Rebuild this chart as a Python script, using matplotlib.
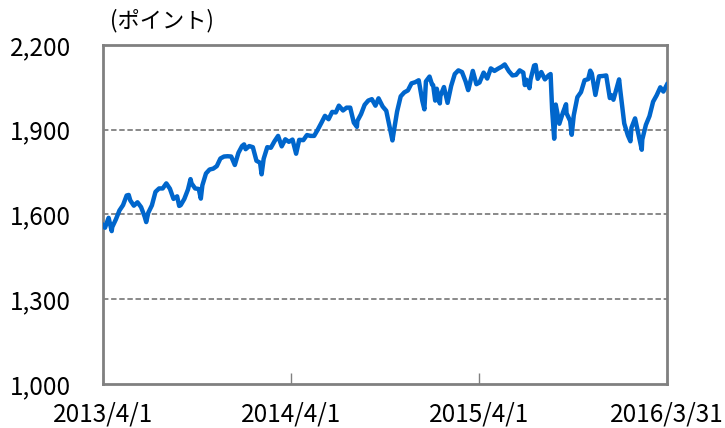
import matplotlib
matplotlib.use('Agg')
import matplotlib.pyplot as plt
import matplotlib.dates as mdates
import numpy as np

plt.rcParams['font.family'] = ['Noto Sans CJK JP', 'DejaVu Sans']

# S&P500 終値（読み取り値）
dates = [
    '2013-04-01', '2013-04-05', '2013-04-12', '2013-04-18', '2013-04-19', '2013-04-26',
    '2013-05-03', '2013-05-10', '2013-05-17', '2013-05-21', '2013-05-24', '2013-05-31',
    '2013-06-07', '2013-06-14', '2013-06-21', '2013-06-24', '2013-06-28', '2013-07-05',
    '2013-07-12', '2013-07-19', '2013-07-26', '2013-08-02', '2013-08-09', '2013-08-16',
    '2013-08-23', '2013-08-27', '2013-08-30', '2013-09-06', '2013-09-13', '2013-09-18',
    '2013-09-20', '2013-09-27', '2013-10-04', '2013-10-08', '2013-10-11', '2013-10-18',
    '2013-10-25', '2013-11-01', '2013-11-08', '2013-11-15', '2013-11-22', '2013-11-29',
    '2013-12-06', '2013-12-13', '2013-12-20', '2013-12-27', '2013-12-31',
    '2014-01-03', '2014-01-10', '2014-01-17', '2014-01-24', '2014-01-31', '2014-02-03',
    '2014-02-07', '2014-02-14', '2014-02-21', '2014-02-28', '2014-03-07', '2014-03-14',
    '2014-03-21', '2014-03-28', '2014-04-04', '2014-04-11', '2014-04-17', '2014-04-25',
    '2014-05-02', '2014-05-09', '2014-05-16', '2014-05-23', '2014-05-30', '2014-06-06',
    '2014-06-13', '2014-06-20', '2014-06-27', '2014-07-03', '2014-07-11', '2014-07-18',
    '2014-07-25', '2014-08-01', '2014-08-07', '2014-08-08', '2014-08-15', '2014-08-22',
    '2014-08-29', '2014-09-05', '2014-09-12', '2014-09-18', '2014-09-26', '2014-10-03',
    '2014-10-10', '2014-10-15', '2014-10-17', '2014-10-24', '2014-10-31', '2014-11-07',
    '2014-11-14', '2014-11-21', '2014-11-28', '2014-12-05', '2014-12-12', '2014-12-16',
    '2014-12-19', '2014-12-26', '2014-12-31',
    '2015-01-02', '2015-01-06', '2015-01-09', '2015-01-15', '2015-01-16', '2015-01-23',
    '2015-01-30', '2015-02-06', '2015-02-13', '2015-02-20', '2015-02-27', '2015-03-06',
    '2015-03-11', '2015-03-13', '2015-03-20', '2015-03-27', '2015-04-02', '2015-04-10',
    '2015-04-17', '2015-04-24', '2015-05-01', '2015-05-08', '2015-05-15', '2015-05-21',
    '2015-05-29', '2015-06-05', '2015-06-12', '2015-06-19', '2015-06-26', '2015-06-29',
    '2015-07-02', '2015-07-08', '2015-07-10', '2015-07-17', '2015-07-20', '2015-07-24',
    '2015-07-31', '2015-08-07', '2015-08-14', '2015-08-18', '2015-08-21', '2015-08-24',
    '2015-08-25', '2015-08-28', '2015-09-04', '2015-09-11', '2015-09-17', '2015-09-18',
    '2015-09-25', '2015-09-28', '2015-10-02', '2015-10-09', '2015-10-16', '2015-10-23',
    '2015-10-30', '2015-11-03', '2015-11-06', '2015-11-13', '2015-11-20', '2015-11-27',
    '2015-12-04', '2015-12-11', '2015-12-14', '2015-12-18', '2015-12-29', '2015-12-31',
    '2016-01-08', '2016-01-15', '2016-01-20', '2016-01-22', '2016-01-29', '2016-02-05',
    '2016-02-11', '2016-02-12', '2016-02-19', '2016-02-26', '2016-03-04', '2016-03-11',
    '2016-03-18', '2016-03-24', '2016-03-31',
]
values = [
    1562, 1553, 1588, 1541, 1555, 1582,
    1614, 1633, 1667, 1669, 1650, 1631,
    1643, 1626, 1592, 1573, 1606, 1632,
    1680, 1692, 1692, 1710, 1691, 1655,
    1664, 1630, 1633, 1655, 1688, 1725,
    1710, 1692, 1690, 1656, 1703, 1745,
    1759, 1762, 1771, 1798, 1805, 1806,
    1805, 1775, 1818, 1842, 1848,
    1831, 1842, 1838, 1790, 1783, 1742,
    1797, 1838, 1836, 1859, 1878, 1841,
    1866, 1857, 1865, 1815, 1864, 1863,
    1881, 1878, 1878, 1900, 1924, 1949,
    1937, 1963, 1961, 1985, 1968, 1978,
    1978, 1925, 1910, 1931, 1955, 1988,
    2003, 2008, 1985, 2011, 1982, 1967,
    1906, 1862, 1886, 1964, 2018, 2032,
    2039, 2064, 2068, 2075, 2002, 1972,
    2071, 2088, 2059,
    2058, 2003, 2045, 1993, 2019, 2051,
    1995, 2055, 2097, 2110, 2104, 2071,
    2040, 2053, 2108, 2061, 2067, 2102,
    2081, 2117, 2108, 2116, 2123, 2131,
    2107, 2092, 2094, 2110, 2102, 2058,
    2077, 2047, 2077, 2127, 2129, 2080,
    2104, 2078, 2092, 2097, 1971, 1893,
    1868, 1989, 1921, 1961, 1990, 1958,
    1931, 1882, 1951, 2015, 2033, 2075,
    2079, 2109, 2099, 2023, 2089, 2090,
    2092, 2012, 2022, 2006, 2078, 2044,
    1922, 1880, 1859, 1907, 1940, 1880,
    1829, 1865, 1917, 1948, 1999, 2022,
    2050, 2035, 2060,
]

x_ticks = ['2013-04-01', '2014-04-01', '2015-04-01', '2016-03-31']
x_labels = ['2013/4/1', '2014/4/1', '2015/4/1', '2016/3/31']
y_ticks = [1000, 1300, 1600, 1900, 2200]
y_labels = ['1,000', '1,300', '1,600', '1,900', '2,200']

x = mdates.date2num(np.array(dates, dtype='datetime64[D]'))
xt = mdates.date2num(np.array(x_ticks, dtype='datetime64[D]'))

fig = plt.figure(figsize=(7.25, 4.28), dpi=100)
ax = fig.add_axes([0.142, 0.103, 0.778, 0.792])

for v in y_ticks[1:-1]:
    ax.axhline(v, color='#808080', linestyle=(0, (3, 1.5)), linewidth=1.3, zorder=1)

ax.plot(x, values, color='#0066CC', linewidth=3.2, zorder=3, solid_joinstyle='round')

ax.set_xlim(xt[0], xt[-1])
ax.set_ylim(1000, 2200)
ax.set_xticks(xt)
ax.set_xticklabels(x_labels)
ax.set_yticks(y_ticks)
ax.set_yticklabels(y_labels)

for s in ax.spines.values():
    s.set_color('#808080')
    s.set_linewidth(2)

ax.tick_params(axis='x', direction='in', length=8, width=1, color='#808080',
               labelsize=17.5, pad=13)
ax.tick_params(axis='y', length=0, labelsize=17.5, pad=23)

fig.text(0.152, 0.953, '(ポイント)', fontsize=16, ha='left', va='center')

fig.savefig('out.png', dpi=100)
